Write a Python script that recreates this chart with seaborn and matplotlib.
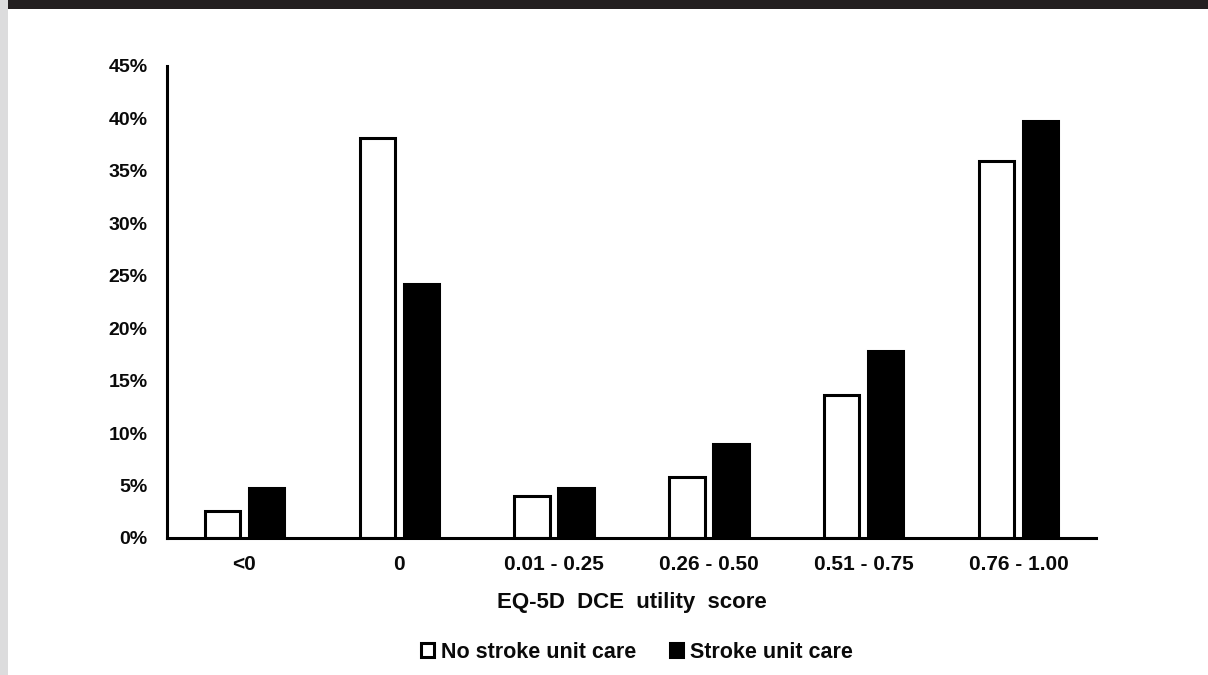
import matplotlib
matplotlib.use("Agg")
import matplotlib.pyplot as plt
from matplotlib.patches import Patch, Rectangle
import pandas as pd
import seaborn as sns

# EQ-5D DCE utility score bands and share of patients (%) per care group
categories = ["<0", "0", "0.01 - 0.25", "0.26 - 0.50", "0.51 - 0.75", "0.76 - 1.00"]
no_stroke_unit = [2.6, 38.1, 4.0, 5.8, 13.6, 35.9]
stroke_unit = [4.8, 24.2, 4.8, 9.0, 17.8, 39.8]
groups = ["No stroke unit care", "Stroke unit care"]
y_ticks = [0, 5, 10, 15, 20, 25, 30, 35, 40, 45]

df = pd.DataFrame({
    "band": categories * 2,
    "share": no_stroke_unit + stroke_unit,
    "group": [groups[0]] * len(categories) + [groups[1]] * len(categories),
})

sns.set_theme(style="white")
plt.rcParams["font.family"] = ["Liberation Sans", "DejaVu Sans"]
plt.rcParams["font.weight"] = "bold"

fig = plt.figure(figsize=(12.08, 6.75), dpi=100)
fig.patch.set_facecolor("white")
ax = fig.add_axes([167 / 1208, 137 / 675, (1096 - 167) / 1208, (538 - 66) / 675])

sns.barplot(
    data=df, x="band", y="share", hue="group", order=categories,
    hue_order=groups, palette={groups[0]: "white", groups[1]: "black"},
    width=0.57, gap=0.2, edgecolor="black", linewidth=2.2,
    legend=False, ax=ax,
)

ax.set_xlim(-0.5, len(categories) - 0.5)
ax.set_ylim(0, 45)
ax.set_yticks(y_ticks)
ax.set_yticklabels([f"{t}%" for t in y_ticks])
ax.tick_params(axis="y", length=0, pad=14, labelsize=14)
ax.tick_params(axis="x", length=0, pad=12, labelsize=15)
for lab in ax.get_xticklabels() + ax.get_yticklabels():
    lab.set_fontweight("bold")
    lab.set_color("#0a0a0a")

ax.set_ylabel("")
ax.set_xlabel("EQ-5D  DCE  utility  score", fontsize=16, fontweight="bold",
              labelpad=13, color="#0a0a0a")

for side in ["top", "right"]:
    ax.spines[side].set_visible(False)
for side in ["left", "bottom"]:
    ax.spines[side].set_linewidth(2.2)
    ax.spines[side].set_color("black")

handles = [
    Patch(facecolor="white", edgecolor="black", linewidth=2.2),
    Patch(facecolor="black", edgecolor="black", linewidth=2.2),
]
leg = fig.legend(
    handles, groups, loc="center", bbox_to_anchor=(637 / 1208, 1 - 652 / 675),
    ncol=2, frameon=False, handlelength=0.6, handleheight=0.6,
    handletextpad=0.3, columnspacing=1.6, prop={"weight": "bold", "size": 15.5},
)
for txt in leg.get_texts():
    txt.set_color("#0a0a0a")

# page frame: dark strip along the top and a grey margin on the left
fig.patches.append(Rectangle((0, 1 - 9 / 675), 1, 9 / 675, transform=fig.transFigure,
                             facecolor="#231f20", edgecolor="none", zorder=10))
fig.patches.append(Rectangle((0, 0), 8 / 1208, 1, transform=fig.transFigure,
                             facecolor="#dcdcdd", edgecolor="none", zorder=10))

fig.savefig("out.png", dpi=100)
